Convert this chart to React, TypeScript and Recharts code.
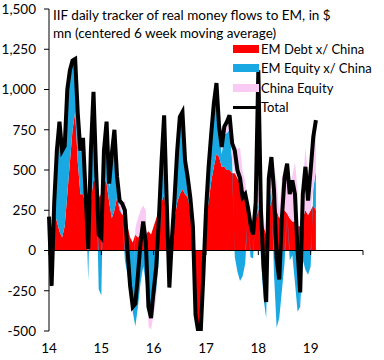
import { ComposedChart, Area, Line, XAxis, YAxis, ReferenceLine, Legend } from 'recharts';

// half-month-ish sampling of the daily tracker
const dates = [
  2014.0, 2014.05, 2014.1, 2014.15, 2014.2, 2014.25, 2014.3, 2014.35, 2014.4, 2014.45,
  2014.5, 2014.55, 2014.6, 2014.65, 2014.7, 2014.75, 2014.8, 2014.85, 2014.9, 2014.95,
  2015.0, 2015.05, 2015.1, 2015.15, 2015.2, 2015.25, 2015.3, 2015.35, 2015.4, 2015.45,
  2015.5, 2015.55, 2015.6, 2015.65, 2015.7, 2015.75, 2015.8, 2015.85, 2015.9, 2015.95,
  2016.0, 2016.05, 2016.1, 2016.15, 2016.2, 2016.25, 2016.3, 2016.35, 2016.4, 2016.45,
  2016.5, 2016.55, 2016.6, 2016.65, 2016.7, 2016.75, 2016.8, 2016.85, 2016.9, 2016.95,
  2017.0, 2017.05, 2017.1, 2017.15, 2017.2, 2017.25, 2017.3, 2017.35, 2017.4, 2017.45,
  2017.5, 2017.55, 2017.6, 2017.65, 2017.7, 2017.75, 2017.8, 2017.85, 2017.9, 2017.95,
  2018.0, 2018.05, 2018.1, 2018.15, 2018.2, 2018.25, 2018.3, 2018.35, 2018.4, 2018.45,
  2018.5, 2018.55, 2018.6, 2018.65, 2018.7, 2018.75, 2018.8, 2018.85, 2018.9, 2018.95,
  2019.0, 2019.05, 2019.1,
];

const emDebt = [
  200, 20, 240, 180, 120, 80, 150, 350, 550, 750,
  860, 550, 350, 350, 280, 190, 300, 450, 400, 330,
  350, 450, 420, 300, 200, 250, 330, 250, 220, 250,
  150, 80, 50, 100, 80, 100, 80, 100, 120, 100,
  150, 200, 250, 300, 350, 200, 0, 50, 200, 300,
  350, 380, 350, 330, 250, 200, -350, -470, -450, -120,
  200, 300, 430, 520, 600, 580, 520, 520, 500, 500,
  480, 480, 450, 420, 380, 350, 200, 150, 120, 200,
  250, 220, 150, 100, 250, 300, 350, 250, 200, 250,
  250, 230, 200, 180, 180, 150, 150, 200, 250, 220,
  250, 280, 250,
];

const emEquity = [
  10, -240, 60, 440, 670, 530, 490, 640, 560, 420,
  320, 290, 260, 340, 60, -190, 310, 520, 90, -240,
  -280, 160, 350, 95, 350, 400, 80, 20, 0, -60,
  -150, -250, -380, -470, -350, -200, -100, -200, -380, -400,
  -320, -250, -50, 250, 480, 100, -200, 20, 120, 300,
  460, 450, 180, 100, 50, -20, -30, -30, -50, -30,
  40, 180, 230, 330, 400, 150, 80, 200, 230, 250,
  80, -40, -130, -190, -160, -80, 20, -40, -50, 50,
  50, -50, -300, -420, 50, 80, -150, -480, -420, -250,
  -80, 0, -60, -30, -200, -380, -350, -60, -120, -150,
  -100, 100, 250,
];

const chinaEquity = [
  0, 0, 0, 0, 10, 10, 10, 10, 10, 10,
  10, 10, 10, 10, 10, 10, 10, 15, 10, 10,
  10, 10, 30, 20, 50, 100, 50, 40, 70, 60,
  0, -50, -20, 40, 120, 150, 200, 150, -90, -90,
  -80, -50, 0, 0, 10, 0, -30, 10, 10, 20,
  20, 30, 30, 26, 30, -30, -20, 0, 0, 0,
  10, 40, 66, 63, 40, 40, 43, 50, 70, 90,
  105, 180, 180, 220, 110, 80, 50, 56, 30, 50,
  100, 80, 50, 0, 150, 200, 170, 180, 40, 200,
  280, 310, 210, 285, 370, 230, -60, 210, 390, 240,
  350, 325, 310,
];

const total = [
  210, -220, 300, 620, 800, 620, 650, 1000, 1120, 1180,
  1190, 850, 620, 700, 350, 10, 620, 985, 500, 100,
  80, 620, 800, 415, 600, 750, 460, 310, 290, 250,
  0, -220, -350, -330, -150, 50, 180, 50, -350, -420,
  -250, -100, 200, 550, 840, 300, -230, 80, 330, 620,
  830, 860, 560, 456, 330, 150, -400, -500, -500, -150,
  250, 520, 726, 913, 1040, 770, 643, 770, 800, 840,
  665, 620, 500, 450, 330, 350, 270, 166, 100, 300,
  1120, 250, -100, -320, 450, 580, 370, -50, -180, 200,
  450, 540, 350, 435, 350, 0, -260, 350, 520, 310,
  500, 705, 810,
];

const yTicks = [-500, -250, 0, 250, 500, 750, 1000, 1250, 1500];
const xTicks = [2014, 2015, 2016, 2017, 2018, 2019];
const yearTicks = [2014, 2015, 2016, 2017, 2018, 2019, 2020];

const data = dates.map((t, i) => ({
  t,
  debt: emDebt[i],
  equity: emEquity[i],
  china: chinaEquity[i],
  total: total[i],
}));

const FONT = 'Lato, "Open Sans", sans-serif';
const RED = '#ff0000';
const BLUE = '#1aa8e2';
const PINK = '#f9cbf4';

const legendItems = [
  { label: 'EM Debt x/ China', color: RED, kind: 'area' },
  { label: 'EM Equity x/ China', color: BLUE, kind: 'area' },
  { label: 'China Equity', color: PINK, kind: 'area' },
  { label: 'Total', color: '#000', kind: 'line' },
];

function LegendBox() {
  return (
    <div style={{ fontFamily: FONT, fontSize: 13, color: '#000' }}>
      {legendItems.map((it) => (
        <div key={it.label} style={{ display: 'flex', alignItems: 'center', height: 19.5 }}>
          <div style={{ width: 26, height: 19.5, display: 'flex', alignItems: 'center', marginRight: 2 }}>
            <div style={{ width: 26, height: it.kind === 'line' ? 3 : 8, background: it.color }} />
          </div>
          <span style={{ whiteSpace: 'nowrap' }}>{it.label}</span>
        </div>
      ))}
    </div>
  );
}

export default function App() {
  return (
    <div style={{ position: 'absolute', left: 0, top: 0, width: 384, height: 360, background: '#fff' }}>
      <ComposedChart
        width={384}
        height={360}
        data={data}
        stackOffset="sign"
        margin={{ top: 9, right: 21, bottom: 0, left: 0 }}
      >
        <XAxis
          dataKey="t"
          type="number"
          domain={[2014, 2020]}
          ticks={xTicks}
          tickFormatter={(v: number) => String(Math.round(v) - 2000)}
          axisLine={false}
          tickLine={false}
          height={29}
          tickMargin={6}
          tick={{ fontSize: 13.5, fill: '#000', fontFamily: FONT }}
        />
        <YAxis
          type="number"
          domain={[-500, 1500]}
          ticks={yTicks}
          allowDataOverflow
          width={49}
          tickSize={5}
          tickMargin={8}
          tickFormatter={(v: number) => v.toLocaleString('en-US')}
          axisLine={{ stroke: '#000' }}
          tickLine={{ stroke: '#000' }}
          tick={{ fontSize: 13.5, fill: '#000', fontFamily: FONT }}
        />
        <Area type="linear" dataKey="debt" name="EM Debt x/ China" stackId="a" stroke="none" fill={RED} fillOpacity={1} isAnimationActive={false} />
        <Area type="linear" dataKey="equity" name="EM Equity x/ China" stackId="a" stroke="none" fill={BLUE} fillOpacity={1} isAnimationActive={false} />
        <Area type="linear" dataKey="china" name="China Equity" stackId="a" stroke="none" fill={PINK} fillOpacity={1} isAnimationActive={false} />
        <ReferenceLine y={0} stroke="#000" strokeWidth={1} />
        {yearTicks.map((yr) => (
          <ReferenceLine key={yr} segment={[{ x: yr, y: 0 }, { x: yr, y: -28 }]} stroke="#000" strokeWidth={1} />
        ))}
        <Line type="linear" dataKey="total" name="Total" stroke="#000" strokeWidth={4} dot={false} isAnimationActive={false} />
        <Legend
          layout="vertical"
          align="center"
          verticalAlign="middle"
          content={() => <LegendBox />}
          wrapperStyle={{ position: 'absolute', left: 233, top: 39, width: 150 }}
        />
      </ComposedChart>
      <div
        style={{
          position: 'absolute',
          left: 53,
          top: 6,
          width: 300,
          fontFamily: FONT,
          fontSize: 13.5,
          lineHeight: '18px',
          color: '#000',
        }}
      >
        IIF daily tracker of real money flows to EM, in $<br />
        mn (centered 6 week moving average)
      </div>
    </div>
  );
}
